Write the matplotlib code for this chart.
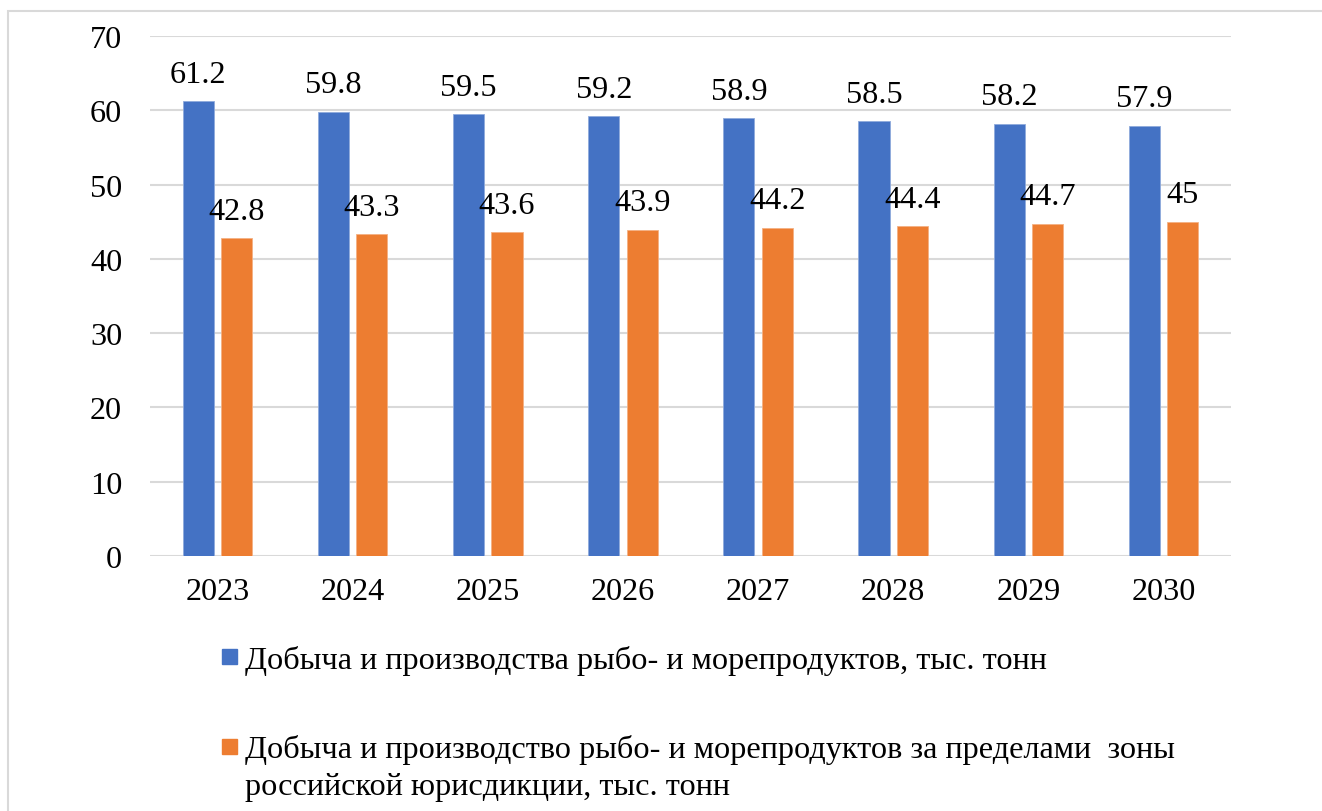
import matplotlib
matplotlib.use("Agg")
import matplotlib.pyplot as plt
from matplotlib.patches import Rectangle
import numpy as np

plt.rcParams['font.family'] = ['Liberation Serif', 'DejaVu Serif']

years = ["2023", "2024", "2025", "2026", "2027", "2028", "2029", "2030"]
total_catch = [61.2, 59.8, 59.5, 59.2, 58.9, 58.5, 58.2, 57.9]
outside_zone = [42.8, 43.3, 43.6, 43.9, 44.2, 44.4, 44.7, 45]
series_names = [
    "Добыча и производства рыбо- и морепродуктов, тыс. тонн",
    "Добыча и производство рыбо- и морепродуктов за пределами  зоны\nроссийской юрисдикции, тыс. тонн",
]
y_ticks = [0, 10, 20, 30, 40, 50, 60, 70]

BLUE = "#4472C4"
ORANGE = "#ED7D31"
GRID = "#D9D9D9"
FS = 23.2

W, H = 1322, 812
fig = plt.figure(figsize=(W / 100, H / 100), dpi=100)
fig.patch.set_facecolor("white")

# outer chart frame
fig.patches.append(Rectangle((8 / W, -0.05), 1.1, 1 - 12 / H + 0.05,
                             transform=fig.transFigure, fill=False,
                             edgecolor=GRID, linewidth=1.5))

ax = fig.add_axes([150 / W, 1 - 557 / H, (1231 - 150) / W, (557 - 37) / H])
x = np.arange(len(years))
bw = 0.23
off = 0.142
b1 = ax.bar(x - off, total_catch, width=bw, color=BLUE, zorder=3,
            edgecolor="#8FAADC", linewidth=0.6)
b2 = ax.bar(x + off, outside_zone, width=bw, color=ORANGE, zorder=3,
            edgecolor="#F4B183", linewidth=0.6)

for bars, vals in ((b1, total_catch), (b2, outside_zone)):
    for rect, v in zip(bars, vals):
        ax.annotate(f"{v:g}", (rect.get_x() + rect.get_width() / 2, v),
                    xytext=(0, 9), textcoords="offset points",
                    ha="center", va="bottom", fontsize=FS, color="black")

ax.set_xlim(-0.5, len(years) - 0.5)
ax.set_ylim(0, 70)
ax.set_yticks(y_ticks)
ax.set_xticks(x)
ax.set_xticklabels(years)
ax.tick_params(axis="both", length=0, labelsize=FS, colors="black")
ax.tick_params(axis="y", pad=20)
ax.tick_params(axis="x", pad=15)
ax.grid(axis="y", color=GRID, linewidth=1.5, zorder=0)
for s in ax.spines.values():
    s.set_visible(False)

# legend drawn below the plot area
sq = 15
entries = [
    (BLUE, 650, [(series_names[0], 669)]),
    (ORANGE, 740, [(line, b) for line, b in zip(series_names[1].split("\n"), (758, 795))]),
]
for color, top, lines in entries:
    fig.patches.append(Rectangle((222 / W, 1 - (top + sq) / H), sq / W, sq / H,
                                 transform=fig.transFigure, color=color))
    for text, base in lines:
        fig.text(245 / W, 1 - base / H, text, fontsize=FS, va="baseline",
                 ha="left", color="black")

fig.savefig("out.png", dpi=100)
